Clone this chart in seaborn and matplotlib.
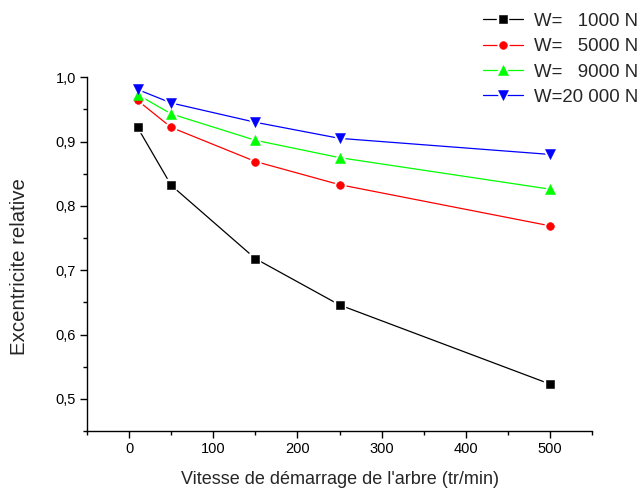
import matplotlib
matplotlib.use("Agg")
import matplotlib.pyplot as plt
import numpy as np
import pandas as pd
import seaborn as sns
from matplotlib.lines import Line2D
from matplotlib.legend_handler import HandlerTuple
from matplotlib.ticker import MultipleLocator

# Starting speed of the shaft (tr/min)
speed = [10, 50, 150, 250, 500]

# Relative eccentricity for each load
ecc_1000 = [0.922, 0.832, 0.718, 0.646, 0.523]
ecc_5000 = [0.964, 0.922, 0.869, 0.833, 0.769]
ecc_9000 = [0.973, 0.943, 0.902, 0.875, 0.826]
ecc_20000 = [0.981, 0.960, 0.930, 0.905, 0.880]

series_labels = ["W=   1000 N", "W=   5000 N", "W=   9000 N", "W=20 000 N"]
series_values = [ecc_1000, ecc_5000, ecc_9000, ecc_20000]
series_colors = ["#000000", "#ff0000", "#00ff00", "#0000ff"]
series_markers = ["s", "o", "^", "v"]
marker_pts = [5.4, 5.6, 7.2, 7.2]

x_ticks = [0, 100, 200, 300, 400, 500]
x_tick_labels = ["0", "100", "200", "300", "400", "500"]
y_ticks = [0.5, 0.6, 0.7, 0.8, 0.9, 1.0]
y_tick_labels = ["0,5", "0,6", "0,7", "0,8", "0,9", "1,0"]

df = pd.DataFrame({
    "speed": np.tile(speed, len(series_labels)),
    "ecc": np.concatenate(series_values),
    "load": np.repeat(series_labels, len(speed)),
})

sns.set_theme(style="ticks")
plt.rcParams["font.family"] = ["Liberation Sans", "DejaVu Sans"]
plt.rcParams["axes.linewidth"] = 1.0

fig = plt.figure(figsize=(6.4, 4.92), dpi=100)
ax = fig.add_axes([0.136, 0.124, 0.789, 0.719])

palette = dict(zip(series_labels, series_colors))

# connecting lines
sns.lineplot(data=df, x="speed", y="ecc", hue="load", hue_order=series_labels,
             palette=palette, lw=0.9, legend=False, ax=ax, zorder=2)

# white halos open a small gap in the lines around each marker
for lab, m, ms in zip(series_labels, series_markers, marker_pts):
    sub = df[df["load"] == lab]
    sns.scatterplot(data=sub, x="speed", y="ecc", marker=m, s=ms ** 2,
                    color="white", edgecolor="white", linewidth=3.2,
                    legend=False, ax=ax, zorder=3)

# coloured markers
for lab, c, m, ms in zip(series_labels, series_colors, series_markers, marker_pts):
    sub = df[df["load"] == lab]
    sns.scatterplot(data=sub, x="speed", y="ecc", marker=m, s=ms ** 2,
                    color=c, edgecolor=c, linewidth=0.4,
                    legend=False, ax=ax, zorder=4)

ax.set_xlim(-50, 550)
ax.set_ylim(0.45, 1.0)
ax.set_xticks(x_ticks)
ax.set_xticklabels(x_tick_labels)
ax.set_yticks(y_ticks)
ax.set_yticklabels(y_tick_labels)
ax.xaxis.set_minor_locator(MultipleLocator(50))
ax.yaxis.set_minor_locator(MultipleLocator(0.05))
ax.tick_params(which="major", direction="out", length=5, width=1.0,
               labelsize=10.5, colors="black", pad=3)
ax.tick_params(which="minor", direction="out", length=3, width=1.0, colors="black")
sns.despine(ax=ax)
for sp in ("left", "bottom"):
    ax.spines[sp].set_color("black")

ax.set_xlabel("Vitesse de démarrage de l'arbre (tr/min)", fontsize=13.0, labelpad=11)
ax.set_ylabel("Excentricite relative", fontsize=14.7)
ax.yaxis.set_label_coords(-0.114, 0.466)

handles = []
for c, m, ms in zip(series_colors, series_markers, marker_pts):
    line = Line2D([0], [0], color=c, lw=0.9)
    halo = Line2D([0], [0], ls="none", marker=m, markersize=ms,
                  markerfacecolor="white", markeredgecolor="white", markeredgewidth=3.2)
    mark = Line2D([0], [0], ls="none", marker=m, markersize=ms,
                  markerfacecolor=c, markeredgecolor=c, markeredgewidth=0.4)
    handles.append((line, halo, mark))

fig.legend(handles, series_labels, handler_map={tuple: HandlerTuple(ndivide=1, pad=0)},
           loc="upper right", bbox_to_anchor=(1.0, 0.978), frameon=False,
           fontsize=13.4, handlelength=2.15, handletextpad=0.6,
           labelspacing=0.45, borderaxespad=0.0, borderpad=0.1)

fig.savefig("out.png", dpi=100)
